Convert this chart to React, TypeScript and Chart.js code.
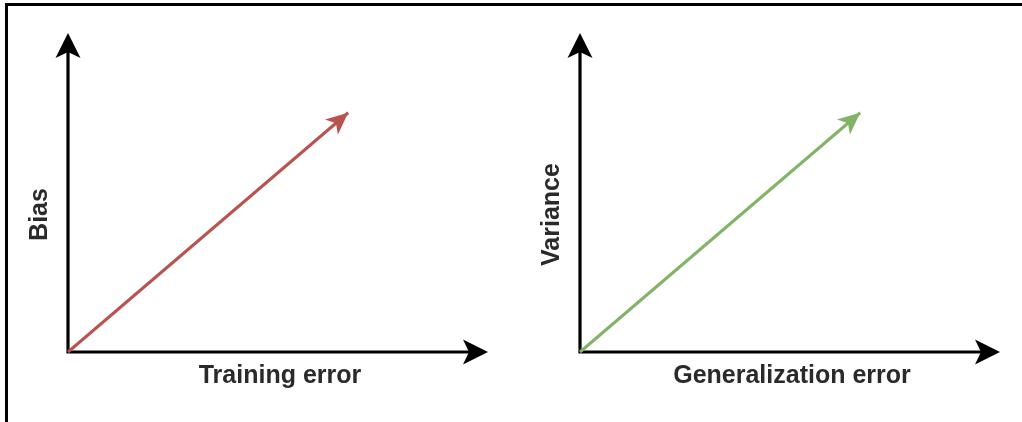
import React, { useEffect, useRef } from "react";
import { Chart, registerables } from "chart.js";

Chart.register(...registerables);

// ---- data ----
const xAxisLabels = ["Training error", "Generalization error"];
const yAxisLabels = ["Bias", "Variance"];
const trendX = [0, 0.667];
const biasY = [0, 0.75];
const varianceY = [0, 0.75];
const seriesColors = ["#b85450", "#82b366"];

const FONT = 'bold 25px "Liberation Sans", Arial, sans-serif';

function drawHead(
  ctx: CanvasRenderingContext2D,
  tx: number,
  ty: number,
  angle: number,
  len: number,
  width: number,
  notch: number,
  color: string
) {
  ctx.save();
  ctx.translate(tx, ty);
  ctx.rotate(angle);
  ctx.beginPath();
  ctx.moveTo(0, 0);
  ctx.lineTo(-len, -width / 2);
  ctx.lineTo(-len + notch, 0);
  ctx.lineTo(-len, width / 2);
  ctx.closePath();
  ctx.fillStyle = color;
  ctx.fill();
  ctx.restore();
}

const arrowPlugin = {
  id: "arrowAxes",
  beforeDatasetsDraw(chart: any) {
    const { ctx, scales } = chart;
    const x = scales.x;
    const y = scales.y;
    const ox = x.getPixelForValue(0);
    const oy = y.getPixelForValue(0);
    const ex = x.getPixelForValue(x.max);
    const ey = y.getPixelForValue(y.max);
    ctx.save();
    ctx.strokeStyle = "#000";
    ctx.lineWidth = 3.2;
    ctx.lineJoin = "miter";
    ctx.beginPath();
    ctx.moveTo(ox, ey + 12);
    ctx.lineTo(ox, oy);
    ctx.lineTo(ex - 12, oy);
    ctx.stroke();
    ctx.restore();
    drawHead(ctx, ox, ey, -Math.PI / 2, 25, 25, 6, "#000");
    drawHead(ctx, ex, oy, 0, 25, 25, 6, "#000");
  },
  afterDatasetsDraw(chart: any) {
    const { ctx } = chart;
    chart.data.datasets.forEach((ds: any, i: number) => {
      const pts = chart.getDatasetMeta(i).data;
      if (pts.length < 2) return;
      const p1 = pts[pts.length - 2];
      const p2 = pts[pts.length - 1];
      const a = Math.atan2(p2.y - p1.y, p2.x - p1.x);
      drawHead(ctx, p2.x, p2.y, a, 22, 20, 6, ds.borderColor);
    });
  },
  afterDraw(chart: any, _args: any, opts: any) {
    const { ctx, scales } = chart;
    const ox = scales.x.getPixelForValue(0);
    const oy = scales.y.getPixelForValue(0);
    const ey = scales.y.getPixelForValue(scales.y.max);
    ctx.save();
    ctx.font = FONT;
    ctx.fillStyle = "#2a2a2a";
    ctx.textAlign = "center";
    ctx.textBaseline = "alphabetic";
    ctx.fillText(opts.xTitle, ox + 212, oy + 31);
    ctx.translate(ox - 28, (oy + ey) / 2 + 22);
    ctx.rotate(-Math.PI / 2);
    ctx.textBaseline = "middle";
    ctx.fillText(opts.yTitle, 0, 0);
    ctx.restore();
  },
};

function Panel({ idx, ys, left, width }: { idx: number; ys: number[]; left: number; width: number }) {
  const ref = useRef<HTMLCanvasElement>(null);
  useEffect(() => {
    if (!ref.current) return;
    const chart = new Chart(ref.current, {
      type: "scatter",
      data: {
        datasets: [
          {
            data: trendX.map((v, i) => ({ x: v, y: ys[i] })),
            showLine: true,
            borderColor: seriesColors[idx],
            borderWidth: 3,
            pointRadius: 0,
            clip: false,
          } as any,
        ],
      },
      options: {
        responsive: false,
        animation: false,
        layout: { padding: { left: 68, right: width - 68 - 420, top: 33, bottom: 70 } },
        scales: {
          x: { type: "linear", min: 0, max: 1, display: false },
          y: { type: "linear", min: 0, max: 1, display: false },
        },
        plugins: {
          legend: { display: false },
          tooltip: { enabled: false },
          arrowAxes: { xTitle: xAxisLabels[idx], yTitle: yAxisLabels[idx] },
        } as any,
      },
      plugins: [arrowPlugin],
    });
    return () => chart.destroy();
  }, []);
  return (
    <canvas
      ref={ref}
      width={width}
      height={422}
      style={{ position: "absolute", left, top: 0, width, height: 422 }}
    />
  );
}

export default function App() {
  return (
    <div
      style={{
        position: "fixed",
        left: 0,
        top: 0,
        width: 1022,
        height: 422,
        background: "#fff",
        overflow: "hidden",
      }}
    >
      <div
        style={{
          position: "absolute",
          left: 5,
          top: 3,
          width: 1030,
          height: 440,
          borderLeft: "3px solid #000",
          borderTop: "3px solid #000",
        }}
      />
      <Panel idx={0} ys={biasY} left={0} width={512} />
      <Panel idx={1} ys={varianceY} left={512} width={510} />
    </div>
  );
}
